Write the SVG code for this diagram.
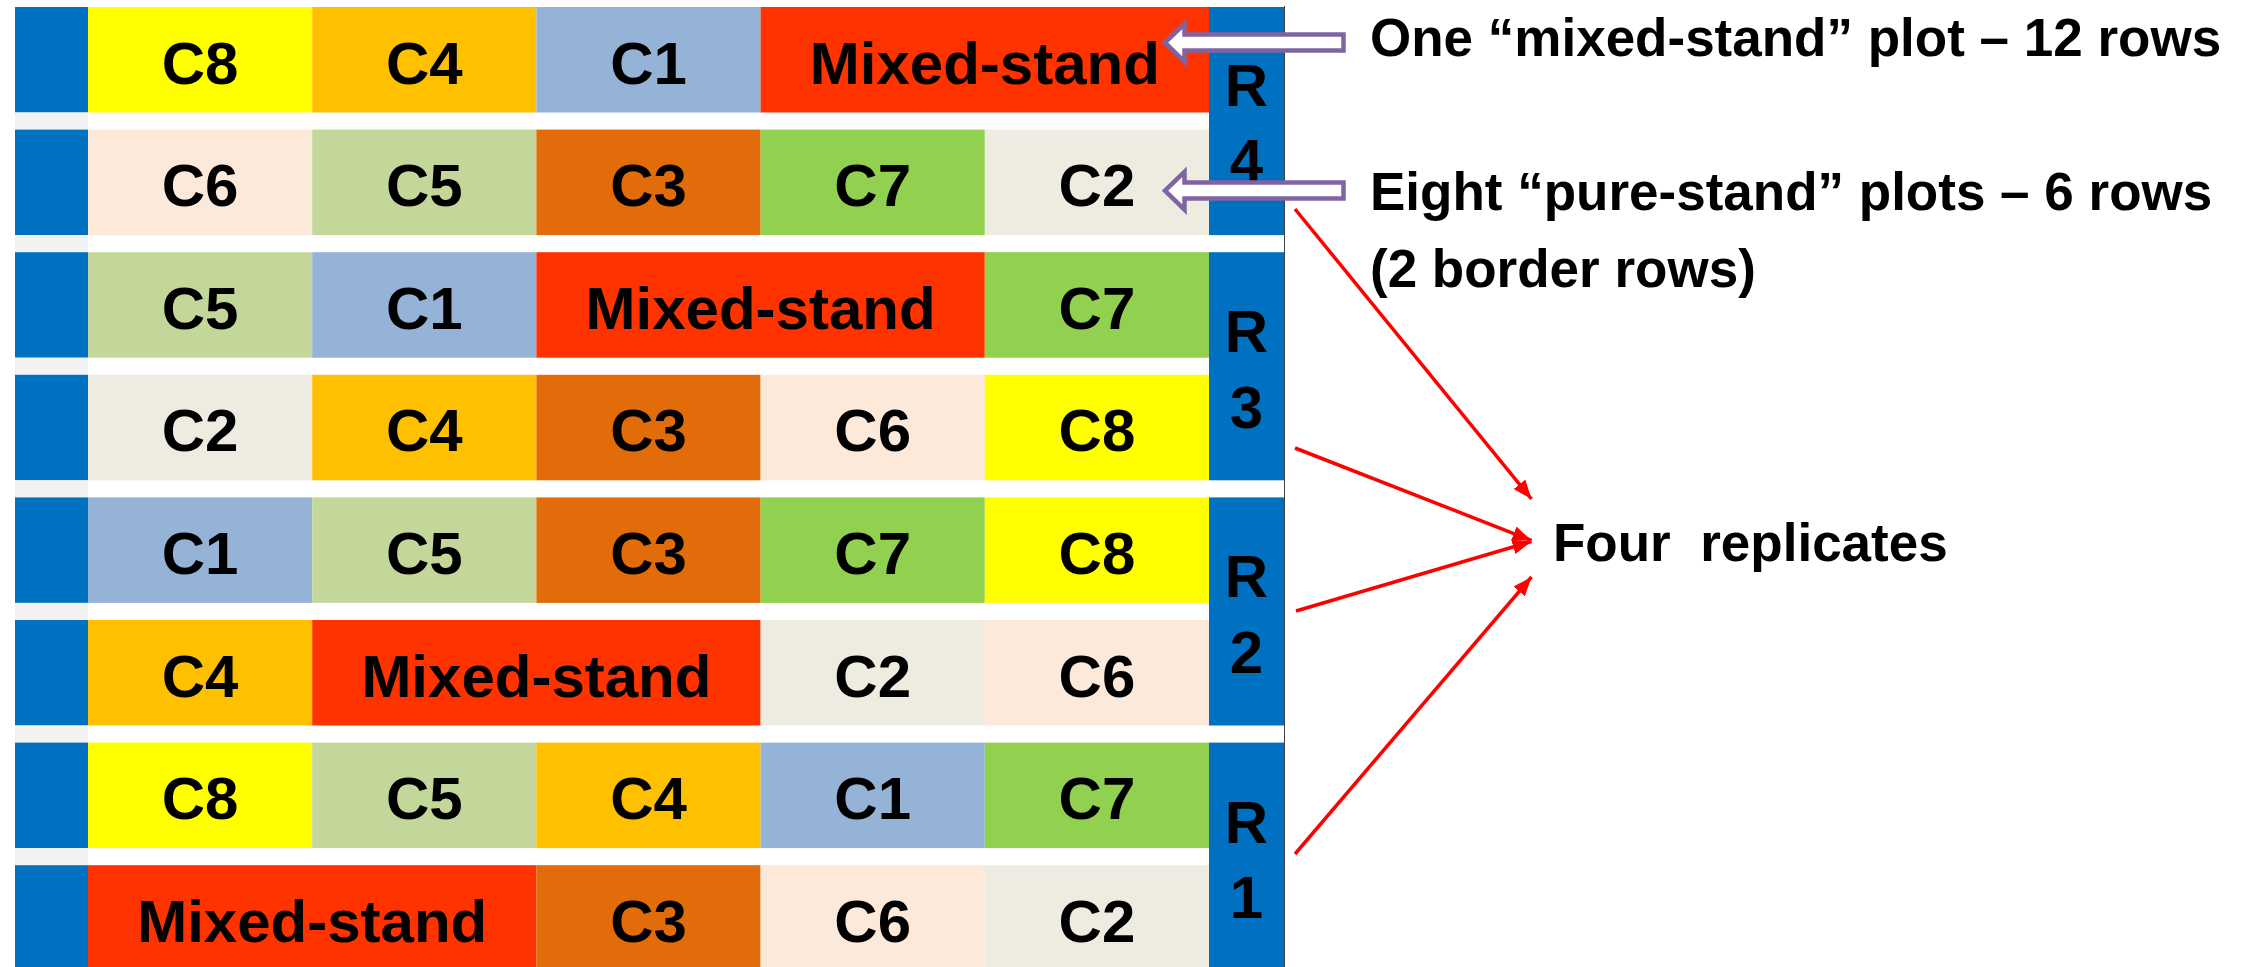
<svg xmlns="http://www.w3.org/2000/svg" width="2244" height="967" viewBox="0 0 2244 967">
  <style>
    .lbl { font-family: "Liberation Sans", Arial, sans-serif; font-weight: bold; font-size: 60px; text-anchor: middle; fill: #000; }
    .note { font-family: "Liberation Sans", Arial, sans-serif; font-weight: bold; font-size: 53px; fill: #000; }
    .edge { fill: #0070C0; }
    .gap { fill: #F2F2F2; }
    .rep { fill: #0070C0; }
    .c1 { fill: #95B3D7; }
    .c2 { fill: #EEECE1; }
    .c3 { fill: #E26B0A; }
    .c4 { fill: #FFC000; }
    .c5 { fill: #C4D79B; }
    .c6 { fill: #FDE9D9; }
    .c7 { fill: #92D050; }
    .c8 { fill: #FFFF00; }
    .mx { fill: #FF3300; }
    .call { fill: #FFFFFF; stroke: #8064A2; stroke-width: 4.5; stroke-linejoin: miter; }
    .link { stroke: #FF0000; stroke-width: 3.5; fill: none; marker-end: url(#tip); }
  </style>
  <defs>
    <marker id="tip" markerUnits="userSpaceOnUse" markerWidth="22" markerHeight="18" refX="19" refY="7.5" orient="auto">
      <path d="M0,0 L19,7.5 L0,15 z" fill="#FF0000"/>
    </marker>
  </defs>

  <rect width="2244" height="967" fill="#FFFFFF"/>

  <!-- left edge strip: blue beside each row, light grey in the walkways -->
  <g id="edge-strip">
    <rect class="edge" x="15" y="7" width="73" height="105.5"/>
    <rect class="gap" x="15" y="112.5" width="73" height="17.1"/>
    <rect class="edge" x="15" y="129.6" width="73" height="105.5"/>
    <rect class="gap" x="15" y="235.1" width="73" height="17.1"/>
    <rect class="edge" x="15" y="252.2" width="73" height="105.5"/>
    <rect class="gap" x="15" y="357.7" width="73" height="17.1"/>
    <rect class="edge" x="15" y="374.8" width="73" height="105.5"/>
    <rect class="gap" x="15" y="480.3" width="73" height="17.1"/>
    <rect class="edge" x="15" y="497.4" width="73" height="105.5"/>
    <rect class="gap" x="15" y="602.9" width="73" height="17.1"/>
    <rect class="edge" x="15" y="620" width="73" height="105.5"/>
    <rect class="gap" x="15" y="725.5" width="73" height="17.1"/>
    <rect class="edge" x="15" y="742.6" width="73" height="105.5"/>
    <rect class="gap" x="15" y="848.1" width="73" height="17.1"/>
    <rect class="edge" x="15" y="865.2" width="73" height="105.5"/>
  </g>

  <!-- row 1 -->
  <g id="row1-c8"><rect class="c8" x="88" y="7" width="224.2" height="105.5"/><text class="lbl" x="200.1" y="83.5">C8</text></g>
  <g id="row1-c4"><rect class="c4" x="312.2" y="7" width="224.2" height="105.5"/><text class="lbl" x="424.3" y="83.5">C4</text></g>
  <g id="row1-c1"><rect class="c1" x="536.4" y="7" width="224.2" height="105.5"/><text class="lbl" x="648.5" y="83.5">C1</text></g>
  <g id="row1-mixed"><rect class="mx" x="760.6" y="7" width="448.4" height="105.5"/><text class="lbl" x="984.8" y="83.5">Mixed-stand</text></g>

  <!-- row 2 -->
  <g id="row2-c6"><rect class="c6" x="88" y="129.6" width="224.2" height="105.5"/><text class="lbl" x="200.1" y="206.1">C6</text></g>
  <g id="row2-c5"><rect class="c5" x="312.2" y="129.6" width="224.2" height="105.5"/><text class="lbl" x="424.3" y="206.1">C5</text></g>
  <g id="row2-c3"><rect class="c3" x="536.4" y="129.6" width="224.2" height="105.5"/><text class="lbl" x="648.5" y="206.1">C3</text></g>
  <g id="row2-c7"><rect class="c7" x="760.6" y="129.6" width="224.2" height="105.5"/><text class="lbl" x="872.7" y="206.1">C7</text></g>
  <g id="row2-c2"><rect class="c2" x="984.8" y="129.6" width="224.2" height="105.5"/><text class="lbl" x="1096.9" y="206.1">C2</text></g>

  <!-- row 3 -->
  <g id="row3-c5"><rect class="c5" x="88" y="252.2" width="224.2" height="105.5"/><text class="lbl" x="200.1" y="328.7">C5</text></g>
  <g id="row3-c1"><rect class="c1" x="312.2" y="252.2" width="224.2" height="105.5"/><text class="lbl" x="424.3" y="328.7">C1</text></g>
  <g id="row3-mixed"><rect class="mx" x="536.4" y="252.2" width="448.4" height="105.5"/><text class="lbl" x="760.6" y="328.7">Mixed-stand</text></g>
  <g id="row3-c7"><rect class="c7" x="984.8" y="252.2" width="224.2" height="105.5"/><text class="lbl" x="1096.9" y="328.7">C7</text></g>

  <!-- row 4 -->
  <g id="row4-c2"><rect class="c2" x="88" y="374.8" width="224.2" height="105.5"/><text class="lbl" x="200.1" y="451.3">C2</text></g>
  <g id="row4-c4"><rect class="c4" x="312.2" y="374.8" width="224.2" height="105.5"/><text class="lbl" x="424.3" y="451.3">C4</text></g>
  <g id="row4-c3"><rect class="c3" x="536.4" y="374.8" width="224.2" height="105.5"/><text class="lbl" x="648.5" y="451.3">C3</text></g>
  <g id="row4-c6"><rect class="c6" x="760.6" y="374.8" width="224.2" height="105.5"/><text class="lbl" x="872.7" y="451.3">C6</text></g>
  <g id="row4-c8"><rect class="c8" x="984.8" y="374.8" width="224.2" height="105.5"/><text class="lbl" x="1096.9" y="451.3">C8</text></g>

  <!-- row 5 -->
  <g id="row5-c1"><rect class="c1" x="88" y="497.4" width="224.2" height="105.5"/><text class="lbl" x="200.1" y="573.9">C1</text></g>
  <g id="row5-c5"><rect class="c5" x="312.2" y="497.4" width="224.2" height="105.5"/><text class="lbl" x="424.3" y="573.9">C5</text></g>
  <g id="row5-c3"><rect class="c3" x="536.4" y="497.4" width="224.2" height="105.5"/><text class="lbl" x="648.5" y="573.9">C3</text></g>
  <g id="row5-c7"><rect class="c7" x="760.6" y="497.4" width="224.2" height="105.5"/><text class="lbl" x="872.7" y="573.9">C7</text></g>
  <g id="row5-c8"><rect class="c8" x="984.8" y="497.4" width="224.2" height="105.5"/><text class="lbl" x="1096.9" y="573.9">C8</text></g>

  <!-- row 6 -->
  <g id="row6-c4"><rect class="c4" x="88" y="620" width="224.2" height="105.5"/><text class="lbl" x="200.1" y="696.5">C4</text></g>
  <g id="row6-mixed"><rect class="mx" x="312.2" y="620" width="448.4" height="105.5"/><text class="lbl" x="536.4" y="696.5">Mixed-stand</text></g>
  <g id="row6-c2"><rect class="c2" x="760.6" y="620" width="224.2" height="105.5"/><text class="lbl" x="872.7" y="696.5">C2</text></g>
  <g id="row6-c6"><rect class="c6" x="984.8" y="620" width="224.2" height="105.5"/><text class="lbl" x="1096.9" y="696.5">C6</text></g>

  <!-- row 7 -->
  <g id="row7-c8"><rect class="c8" x="88" y="742.6" width="224.2" height="105.5"/><text class="lbl" x="200.1" y="819.1">C8</text></g>
  <g id="row7-c5"><rect class="c5" x="312.2" y="742.6" width="224.2" height="105.5"/><text class="lbl" x="424.3" y="819.1">C5</text></g>
  <g id="row7-c4"><rect class="c4" x="536.4" y="742.6" width="224.2" height="105.5"/><text class="lbl" x="648.5" y="819.1">C4</text></g>
  <g id="row7-c1"><rect class="c1" x="760.6" y="742.6" width="224.2" height="105.5"/><text class="lbl" x="872.7" y="819.1">C1</text></g>
  <g id="row7-c7"><rect class="c7" x="984.8" y="742.6" width="224.2" height="105.5"/><text class="lbl" x="1096.9" y="819.1">C7</text></g>

  <!-- row 8 -->
  <g id="row8-mixed"><rect class="mx" x="88" y="865.2" width="448.4" height="105.5"/><text class="lbl" x="312.2" y="941.7">Mixed-stand</text></g>
  <g id="row8-c3"><rect class="c3" x="536.4" y="865.2" width="224.2" height="105.5"/><text class="lbl" x="648.5" y="941.7">C3</text></g>
  <g id="row8-c6"><rect class="c6" x="760.6" y="865.2" width="224.2" height="105.5"/><text class="lbl" x="872.7" y="941.7">C6</text></g>
  <g id="row8-c2"><rect class="c2" x="984.8" y="865.2" width="224.2" height="105.5"/><text class="lbl" x="1096.9" y="941.7">C2</text></g>

  <!-- replicate blocks, each spanning two rows -->
  <g id="rep4"><rect class="rep" x="1209" y="7" width="75" height="228.1"/><text class="lbl" x="1246.5" y="106">R</text><text class="lbl" x="1246.5" y="181">4</text></g>
  <g id="rep3"><rect class="rep" x="1209" y="252.2" width="75" height="228.1"/><text class="lbl" x="1246.5" y="351.5">R</text><text class="lbl" x="1246.5" y="428">3</text></g>
  <g id="rep2"><rect class="rep" x="1209" y="497.4" width="75" height="228.1"/><text class="lbl" x="1246.5" y="597">R</text><text class="lbl" x="1246.5" y="673">2</text></g>
  <g id="rep1"><rect class="rep" x="1209" y="742.6" width="75" height="228.1"/><text class="lbl" x="1246.5" y="843">R</text><text class="lbl" x="1246.5" y="918">1</text></g>

  <!-- right border of the field table -->
  <line x1="1284.5" y1="6" x2="1284.5" y2="967" stroke="#404040" stroke-width="1"/>

  <!-- annotations -->
  <g id="note-mixed"><text class="note" x="1370" y="56">One “mixed-stand” plot – 12 rows</text></g>
  <g id="note-pure"><text class="note" x="1370" y="210">Eight “pure-stand” plots – 6 rows</text><text class="note" x="1370" y="287">(2 border rows)</text></g>
  <g id="note-reps"><text class="note" x="1553" y="561" xml:space="preserve">Four  replicates</text></g>

  <!-- connectors -->
  <g id="connectors">
    <path class="call" d="M1165,42.7 L1184.5,23.8 L1184.5,34.5 L1343.5,34.5 L1343.5,50.5 L1184.5,50.5 L1184.5,61.6 Z"/>
    <path class="call" d="M1165,190.7 L1184.5,171.8 L1184.5,182.5 L1343.5,182.5 L1343.5,198.5 L1184.5,198.5 L1184.5,209.6 Z"/>
    <line class="link" x1="1295" y1="209" x2="1531.5" y2="499"/>
    <line class="link" x1="1295" y1="448" x2="1531.5" y2="540.5"/>
    <line class="link" x1="1296" y1="611" x2="1531.5" y2="541.5"/>
    <line class="link" x1="1295" y1="854" x2="1531.5" y2="577"/>
  </g>
</svg>
